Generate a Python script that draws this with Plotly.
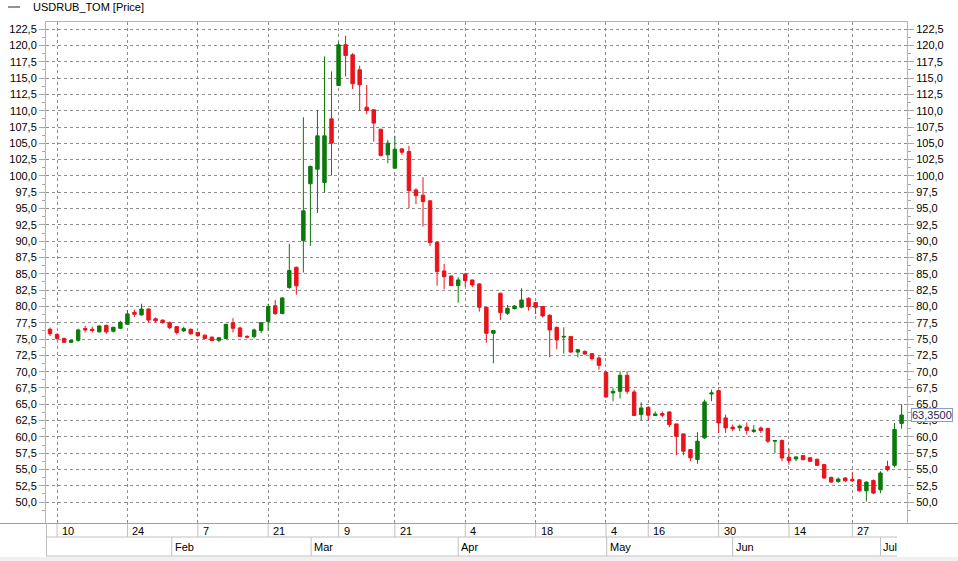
import plotly.graph_objects as go

# ---- data ----
opens = [76.5, 75.7, 75.1, 74.5, 74.8, 76.6, 76.5, 76.1, 77.1, 76.2,
         76.65, 77.26, 79.1, 78.7, 79.6, 78.1, 77.9, 77.5, 76.9, 76.25,
         76.5, 76.0, 75.6, 75.3, 74.8, 75.1, 77.5, 76.7, 75.4, 75.4,
         76.3, 77.7, 80.1, 78.9, 82.9, 86.0, 90.1, 98.8, 101.04, 99.0,
         108.76, 113.87, 120.11, 118.57, 116.27, 110.55, 110.14, 107.17, 103.24, 101.19,
         104.15, 103.74, 97.86, 97.05, 96.18, 89.84, 85.44, 84.67, 83.19, 84.98,
         84.06, 83.45, 79.87, 75.88, 82.01, 78.95, 79.66, 79.87, 81.25, 80.58,
         79.97, 78.64, 76.8, 75.3, 75.4, 73.0, 73.1, 72.76, 72.1, 69.9,
         66.73, 66.99, 69.44, 66.89, 63.42, 64.54, 63.27, 63.57, 63.83, 61.99,
         60.46, 58.06, 56.53, 59.85, 66.58, 67.09, 62.91, 61.5, 61.4, 61.5,
         60.84, 61.35, 61.3, 59.34, 59.45, 56.88, 56.62, 57.13, 56.8, 56.57,
         55.75, 53.79, 53.17, 53.69, 53.48, 53.43, 51.73, 53.33, 51.89, 55.49,
         55.64, 62.07]
highs = [76.75, 75.9, 75.2, 74.85, 76.6, 77.05, 76.9, 77.1, 77.2, 76.9,
         77.8, 79.46, 79.5, 80.4, 79.7, 78.3, 78.0, 77.7, 77.0, 76.9,
         76.6, 76.1, 75.7, 75.35, 75.25, 77.3, 78.2, 76.9, 75.6, 76.6,
         77.6, 80.4, 81.0, 81.4, 89.6, 86.1, 109.0, 101.6, 110.14, 118.32,
         116.02, 120.6, 121.49, 118.83, 116.89, 113.97, 110.2, 107.2, 105.54, 106.15,
         104.3, 104.61, 98.1, 99.81, 96.3, 89.9, 86.51, 84.7, 84.47, 85.1,
         84.1, 83.55, 79.95, 76.35, 82.1, 80.23, 80.2, 82.78, 81.4, 80.7,
         80.1, 78.8, 76.9, 76.8, 75.45, 73.4, 73.25, 72.8, 72.35, 70.05,
         67.5, 70.05, 70.05, 67.24, 65.3, 64.6, 63.9, 63.9, 63.9, 62.0,
         60.5, 58.15, 60.71, 65.71, 67.24, 67.2, 63.42, 61.9, 61.9, 62.2,
         61.8, 61.6, 61.4, 59.5, 59.6, 58.2, 57.0, 57.15, 56.9, 56.65,
         55.85, 53.9, 53.79, 53.85, 54.56, 53.5, 53.17, 53.43, 54.72, 56.36,
         62.12, 65.0]
lows = [75.47, 74.8, 74.4, 74.4, 74.6, 76.0, 76.0, 76.0, 75.8, 76.0,
        76.5, 77.2, 78.4, 78.6, 77.5, 77.5, 77.4, 76.5, 75.7, 76.1,
        75.7, 75.4, 75.0, 74.7, 74.5, 75.0, 76.0, 75.3, 75.1, 75.1,
        75.9, 76.3, 78.7, 78.8, 82.7, 81.8, 85.2, 89.3, 94.3, 97.46,
        100.07, 113.87, 115.25, 113.31, 110.04, 109.48, 105.28, 103.0, 101.96, 101.1,
        103.23, 95.05, 95.67, 92.24, 89.28, 83.19, 82.63, 83.1, 80.58, 83.04,
        82.94, 79.2, 74.45, 71.28, 77.93, 78.69, 79.55, 79.71, 79.36, 78.85,
        78.33, 72.2, 73.43, 72.76, 72.9, 72.2, 72.6, 71.7, 70.3, 66.0,
        65.46, 65.87, 66.58, 63.2, 62.5, 62.5, 63.2, 63.0, 61.48, 57.19,
        57.19, 56.28, 55.87, 59.7, 65.46, 60.61, 60.61, 60.9, 60.9, 60.37,
        60.6, 60.6, 59.09, 57.55, 56.26, 55.75, 56.3, 56.45, 56.2, 55.55,
        53.6, 52.98, 52.98, 53.07, 53.07, 51.63, 50.1, 51.22, 51.38, 54.72,
        55.33, 61.25]
closes = [75.8, 75.1, 74.5, 74.8, 76.4, 76.4, 76.3, 77.0, 76.1, 76.8,
          77.57, 78.85, 78.8, 79.6, 77.9, 77.8, 77.5, 76.75, 76.0, 76.6,
          75.8, 75.5, 75.1, 74.75, 75.2, 77.26, 76.65, 75.4, 75.3, 76.4,
          77.5, 80.0, 78.9, 81.3, 85.5, 83.15, 94.65, 101.45, 106.15, 106.15,
          105.03, 120.11, 118.47, 114.13, 113.97, 110.04, 108.1, 103.14, 105.03, 104.1,
          103.64, 97.76, 96.99, 96.07, 89.79, 85.34, 84.57, 83.19, 84.06, 83.96,
          83.29, 79.87, 75.88, 76.29, 79.05, 79.71, 80.07, 80.99, 79.97, 79.87,
          78.54, 76.39, 74.86, 75.4, 73.0, 73.37, 72.7, 71.99, 70.97, 66.12,
          66.99, 69.44, 66.99, 63.27, 64.44, 63.32, 63.52, 63.32, 61.89, 60.1,
          57.81, 56.79, 59.34, 65.36, 66.73, 62.14, 61.38, 61.25, 61.65, 61.0,
          61.04, 60.99, 59.34, 59.45, 56.77, 56.36, 56.93, 56.5, 56.26, 55.64,
          53.69, 53.07, 53.53, 53.28, 53.28, 51.73, 53.07, 51.38, 54.46, 54.97,
          61.14, 63.35]

price_ticks = [50.0, 52.5, 55.0, 57.5, 60.0, 62.5, 65.0, 67.5, 70.0, 72.5, 75.0, 77.5, 80.0,
               82.5, 85.0, 87.5, 90.0, 92.5, 95.0, 97.5, 100.0, 102.5, 105.0, 107.5, 110.0,
               112.5, 115.0, 117.5, 120.0, 122.5]
day_tick_pos = [2, 12, 22, 32, 42, 50, 60, 70, 80, 86, 96, 106, 115]
day_tick_labels = ["10", "24", "7", "21", "9", "21", "4", "18", "4", "16", "30", "14", "27"]
month_pos = [18.3, 38.1, 59.0, 80.1, 98.0, 119.0]
month_labels = ["Feb", "Mar", "Apr", "May", "Jun", "Jul"]
series_name = "USDRUB_TOM [Price]"

idx = list(range(1, len(closes) + 1))

FONT = "Liberation Sans, Arial, sans-serif"
W, H = 958, 561
L, R, T, B = 46, 51, 22, 38
PW, PH = W - L - R, H - T - B

def px(X):
    return (X - L) / PW

def py(Y):
    return (H - B - Y) / PH

fig = go.Figure()
fig.add_trace(go.Candlestick(
    x=idx, open=opens, high=highs, low=lows, close=closes,
    increasing=dict(line=dict(color="#0b7a0b", width=1), fillcolor="#0b7a0b"),
    decreasing=dict(line=dict(color="#e8131b", width=1), fillcolor="#e8131b"),
    whiskerwidth=0, showlegend=False, hoverinfo="skip",
))
# invisible helper trace for the right-hand price axis
fig.add_trace(go.Scatter(x=[idx[0]], y=[closes[0]], yaxis="y2", mode="markers",
                         marker=dict(opacity=0), showlegend=False, hoverinfo="skip"))

yrange = [46.8, 123.6]
price_text = [f"{v:.1f}".replace(".", ",") for v in price_ticks]
minor_vals = [v + 1.25 for v in price_ticks[:-1]] + [price_ticks[0] - 1.25, price_ticks[-1] + 1.25]
axis_common = dict(
    range=yrange, tickmode="array", tickvals=price_ticks, ticktext=price_text,
    ticks="outside", ticklen=6, tickcolor="#a8a8a8", tickwidth=1,
    tickfont=dict(family=FONT, size=11, color="#000000"),
    minor=dict(tickmode="array", tickvals=minor_vals, ticks="outside", ticklen=3,
               tickcolor="#a8a8a8", showgrid=False),
    fixedrange=True, zeroline=False, automargin=False,
)

fig.update_layout(
    width=W, height=H,
    margin=dict(l=L, r=R, t=T, b=B, pad=0, autoexpand=False),
    paper_bgcolor="#ffffff", plot_bgcolor="#ffffff",
    font=dict(family=FONT, size=11, color="#000000"),
    showlegend=False,
    boxgap=0.3,
    xaxis=dict(
        range=[0.43, len(closes) + 0.77], tickvals=day_tick_pos, showticklabels=False,
        ticks="", showgrid=True, gridcolor="#8f8f8f", griddash="3px,3px", gridwidth=1,
        showline=True, mirror=True, linecolor="#b4b4b4", linewidth=1,
        rangeslider=dict(visible=False), zeroline=False, fixedrange=True, automargin=False,
    ),
    yaxis=dict(**axis_common, side="left", showgrid=True, gridcolor="#8f8f8f",
               griddash="3px,3px", gridwidth=1, showline=True, linecolor="#b4b4b4"),
    yaxis2=dict(**axis_common, side="right", overlaying="y", showgrid=False,
                showline=True, linecolor="#b4b4b4"),
)

shapes = []
ann = []
line_col = "#a0a0a0"
# full-width separator line under the plot
shapes.append(dict(type="line", xref="paper", yref="paper", x0=px(0), x1=px(W), y0=py(523.5), y1=py(523.5),
                   line=dict(color=line_col, width=1)))
# date axis box
shapes.append(dict(type="line", xref="paper", yref="paper", x0=px(46), x1=px(897), y0=py(537), y1=py(537),
                   line=dict(color="#c0c0c0", width=1)))
shapes.append(dict(type="line", xref="paper", yref="paper", x0=px(46), x1=px(897), y0=py(556), y1=py(556),
                   line=dict(color="#c0c0c0", width=1)))
shapes.append(dict(type="line", xref="paper", yref="paper", x0=px(46.5), x1=px(46.5), y0=py(524), y1=py(556),
                   line=dict(color="#c0c0c0", width=1)))
shapes.append(dict(type="rect", xref="paper", yref="paper", x0=px(0), x1=px(W), y0=py(557), y1=py(H),
                   line=dict(width=0), fillcolor="#f0f0f0", layer="below"))
for p, lab in zip(day_tick_pos, day_tick_labels):
    shapes.append(dict(type="line", xref="x", yref="paper", x0=p, x1=p, y0=py(524), y1=py(537),
                       line=dict(color="#c0c0c0", width=1)))
    ann.append(dict(x=p, xref="x", y=py(530.5), yref="paper", text=lab, showarrow=False,
                    xanchor="left", yanchor="middle", xshift=3,
                    font=dict(family=FONT, size=11, color="#000000")))
for p, lab in zip(month_pos, month_labels):
    shapes.append(dict(type="line", xref="x", yref="paper", x0=p, x1=p, y0=py(537), y1=py(556),
                       line=dict(color="#c0c0c0", width=1)))
    ann.append(dict(x=p, xref="x", y=py(547), yref="paper", text=lab, showarrow=False,
                    xanchor="left", yanchor="middle", xshift=1,
                    font=dict(family=FONT, size=11, color="#000000")))

# legend
shapes.append(dict(type="line", xref="paper", yref="paper", x0=px(8), x1=px(20), y0=py(7), y1=py(7),
                   line=dict(color="#1c2450", width=1)))
ann.append(dict(x=px(31), xref="paper", y=py(7), yref="paper", text=series_name, showarrow=False,
                xanchor="left", yanchor="middle", font=dict(family=FONT, size=11, color="#000000")))

# last price label
ann.append(dict(x=px(911), xref="paper", y=closes[-1], yref="y", text=f"{closes[-1]:.4f}".replace(".", ","),
                showarrow=False, xanchor="left", yanchor="middle", bgcolor="#ffffff",
                bordercolor="#8a9ccc", borderwidth=1, borderpad=0,
                font=dict(family=FONT, size=11, color="#1a1f5c")))

fig.update_layout(shapes=shapes, annotations=ann)
fig.write_html("out.html", config={"displayModeBar": False},
               post_script="document.body.style.margin='0px';")
